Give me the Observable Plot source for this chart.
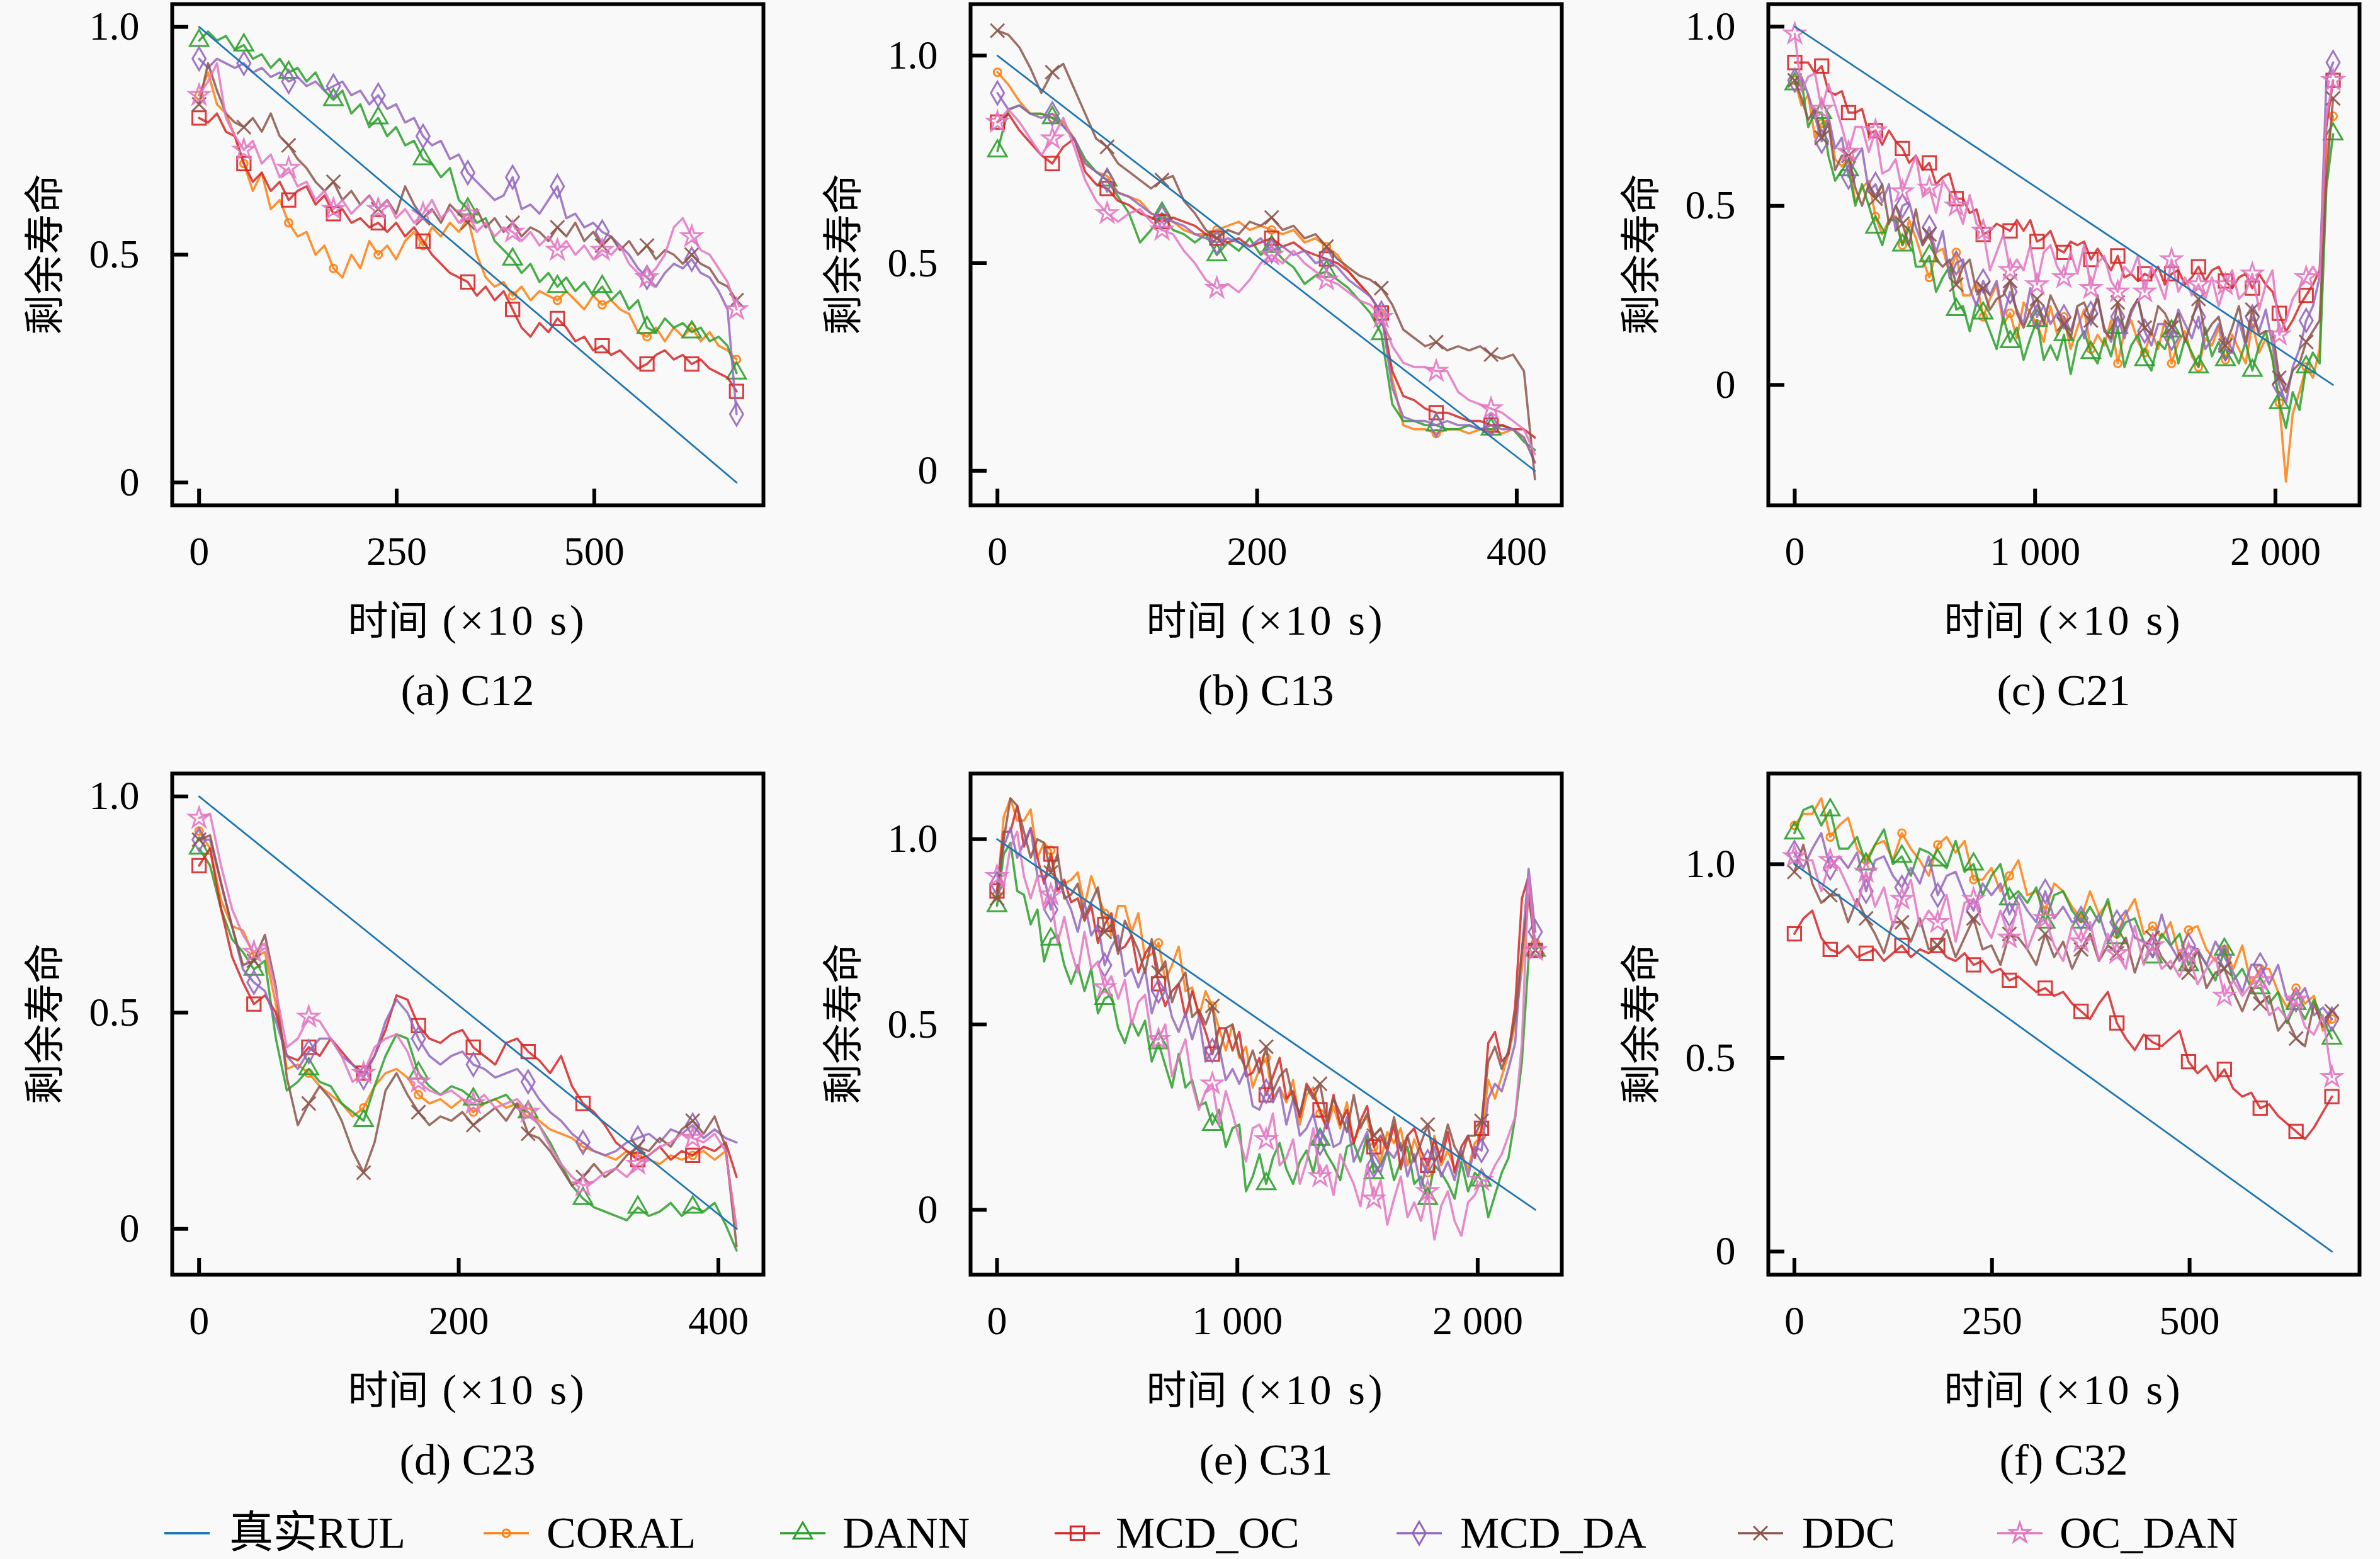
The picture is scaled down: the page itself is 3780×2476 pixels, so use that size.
<!DOCTYPE html>
<html><head><meta charset="utf-8">
<script src="https://cdn.jsdelivr.net/npm/d3@7"></script>
<script src="https://cdn.jsdelivr.net/npm/@observablehq/plot@0.6"></script>
<style>
html,body{margin:0;padding:0;background:#f9f9f9;}
#fig{position:relative;width:3780px;height:2476px;background:#f9f9f9;font-family:"Liberation Serif","Noto Sans CJK SC",serif;color:#000;overflow:hidden;}
.lbl{position:absolute;font-size:64px;white-space:nowrap;transform:translate(-50%,-50%);line-height:1;}
.ttl{position:absolute;font-size:70px;white-space:nowrap;transform:translate(-50%,-50%);line-height:1;}
.lat{letter-spacing:5px;font-size:68px;}
.ylbl{position:absolute;font-size:64px;white-space:nowrap;transform:translate(-50%,-50%) rotate(-90deg);line-height:1;font-family:"Noto Sans CJK SC",sans-serif;}
.leg{position:absolute;font-size:70px;white-space:nowrap;transform:translateY(-50%);line-height:1;}
</style></head><body><div id="fig"></div><script>
// ---------- data ----------
const names = ["真实RUL","CORAL","DANN","MCD_OC","MCD_DA","DDC","OC_DAN"];
const colors = ["#1f77b4","#ff7f0e","#2ca02c","#d62728","#9467bd","#8c564b","#e377c2"];
const symbols = [null,"circle","triangle","square","diamond","times","star"];
const panelTitles = ["(a) C12","(b) C13","(c) C21","(d) C23","(e) C31","(f) C32"];
const durations = [680,414,2240,414,2240,680];
const trueRUL = [1,0];
const yTicks = [0,0.5,1];
const yTickLabels = ["0","0.5","1.0"];
const xTicksA = [0,250,500];
const xTickLabelsA = ["0","250","500"];
const xTicksB = [0,200,400];
const xTickLabelsB = ["0","200","400"];
const xTicksC = [0,1000,2000];
const xTickLabelsC = ["0","1 000","2 000"];
const xAxisTitleCJK = "时间";
const xAxisTitleLat = " (×10 s)";
const yAxisTitle = "剩余寿命";

// C12
const C12_CORAL = [.85,.90,.83,.81,.76,.70,.64,.68,.60,.62,.57,.54,.55,.50,.52,.47,.45,.50,.47,.53,.50,.52,.49,.53,.55,.52,.56,.54,.57,.55,.58,.50,.45,.43,.44,.41,.43,.40,.42,.41,.40,.42,.40,.38,.41,.39,.40,.38,.37,.33,.32,.34,.31,.34,.32,.34,.31,.33,.30,.29,.27];
const C12_DANN = [.97,.99,.97,.98,.95,.96,.93,.94,.91,.93,.90,.91,.88,.90,.86,.84,.86,.81,.83,.78,.80,.76,.78,.74,.75,.71,.70,.67,.69,.62,.60,.57,.58,.53,.51,.49,.46,.48,.44,.46,.43,.45,.42,.44,.41,.43,.40,.42,.38,.40,.34,.33,.36,.34,.35,.33,.34,.31,.32,.30,.24];
const C12_MCD_OC = [.80,.79,.81,.77,.76,.70,.66,.68,.64,.66,.62,.64,.65,.61,.63,.59,.60,.57,.58,.56,.57,.55,.57,.54,.56,.53,.50,.48,.46,.45,.44,.41,.43,.40,.42,.38,.34,.32,.35,.33,.36,.34,.31,.32,.29,.30,.28,.29,.27,.25,.26,.28,.29,.27,.28,.26,.27,.25,.24,.23,.20];
const C12_MCD_DA = [.93,.91,.93,.92,.91,.92,.90,.91,.89,.90,.88,.89,.87,.88,.86,.87,.88,.85,.86,.83,.85,.82,.83,.79,.80,.76,.74,.75,.71,.72,.68,.66,.64,.62,.63,.67,.60,.61,.59,.62,.65,.58,.59,.56,.57,.55,.54,.52,.50,.47,.45,.43,.46,.48,.47,.49,.46,.45,.42,.38,.15];
const C12_DDC = [.83,.92,.86,.81,.79,.78,.80,.77,.81,.76,.74,.71,.69,.66,.64,.66,.62,.64,.61,.63,.60,.62,.59,.65,.61,.58,.60,.57,.61,.59,.57,.60,.56,.58,.55,.57,.54,.56,.55,.53,.56,.54,.57,.53,.55,.52,.54,.51,.53,.50,.52,.49,.51,.50,.48,.50,.48,.47,.44,.43,.40];
const C12_OC_DAN = [.85,.88,.92,.80,.76,.73,.75,.70,.72,.67,.69,.65,.66,.62,.64,.60,.62,.59,.61,.63,.60,.62,.58,.60,.57,.59,.62,.58,.60,.57,.59,.55,.57,.54,.56,.55,.53,.55,.52,.54,.51,.53,.50,.52,.49,.51,.50,.52,.48,.46,.45,.47,.50,.56,.58,.54,.51,.50,.47,.44,.38];

// C13
const C13_CORAL = [.96,.93,.89,.86,.86,.85,.84,.80,.74,.72,.71,.67,.66,.65,.62,.61,.60,.58,.57,.57,.58,.59,.60,.58,.59,.58,.57,.58,.55,.56,.54,.52,.48,.45,.42,.38,.22,.11,.10,.10,.09,.10,.10,.09,.10,.10,.09,.10,.08,.02];
const C13_DANN = [.77,.87,.88,.86,.86,.85,.83,.80,.75,.72,.70,.66,.62,.55,.58,.62,.58,.57,.55,.57,.52,.55,.53,.56,.52,.54,.51,.49,.45,.47,.48,.46,.44,.41,.38,.33,.16,.12,.12,.11,.11,.10,.10,.11,.10,.10,.11,.10,.07,.05];
const C13_MCD_OC = [.84,.86,.82,.79,.76,.74,.78,.80,.72,.69,.68,.65,.64,.62,.61,.60,.61,.60,.59,.57,.56,.55,.56,.54,.55,.56,.54,.55,.53,.52,.51,.50,.48,.45,.42,.38,.24,.18,.17,.15,.14,.14,.13,.12,.12,.11,.11,.10,.10,.08];
const C13_MCD_DA = [.91,.87,.88,.86,.85,.86,.83,.80,.74,.72,.70,.67,.66,.64,.62,.61,.60,.59,.57,.56,.55,.56,.55,.54,.56,.53,.54,.52,.53,.50,.51,.49,.46,.44,.42,.38,.20,.13,.12,.12,.11,.12,.11,.11,.10,.11,.10,.10,.08,.02];
const C13_DDC = [1.06,1.05,1.02,.97,.91,.96,.98,.92,.86,.80,.78,.74,.72,.70,.68,.70,.71,.65,.62,.58,.56,.58,.57,.60,.59,.61,.58,.59,.56,.57,.54,.51,.49,.47,.46,.44,.40,.34,.32,.30,.31,.29,.30,.29,.30,.28,.27,.28,.24,-.02];
const C13_OC_DAN = [.84,.87,.84,.80,.76,.80,.85,.78,.70,.65,.62,.60,.62,.63,.60,.58,.57,.53,.50,.46,.44,.45,.43,.46,.50,.52,.50,.53,.50,.48,.46,.45,.43,.41,.40,.37,.30,.26,.25,.25,.24,.24,.19,.17,.16,.15,.14,.12,.10,.04];

// C21
const C21_CORAL = [.85,.78,.81,.69,.73,.74,.63,.61,.63,.51,.55,.57,.47,.42,.46,.47,.39,.46,.41,.35,.30,.37,.38,.31,.37,.25,.25,.29,.19,.24,.28,.17,.20,.13,.23,.20,.17,.12,.22,.14,.19,.10,.16,.21,.10,.14,.11,.18,.06,.15,.18,.12,.09,.15,.10,.18,.06,.12,.15,.08,.05,.13,.11,.16,.07,.14,.10,.06,.17,.09,.13,.08,-.05,-.27,-.08,-.02,.05,.02,.10,.65,.75];
const C21_DANN = [.84,.85,.72,.76,.76,.64,.57,.60,.60,.50,.56,.50,.44,.39,.46,.46,.39,.44,.33,.33,.36,.26,.30,.33,.21,.22,.15,.23,.20,.15,.10,.19,.12,.16,.07,.13,.18,.07,.11,.07,.14,.03,.12,.15,.09,.06,.13,.08,.16,.05,.11,.14,.07,.04,.12,.10,.15,.06,.13,.09,.05,.16,.08,.12,.07,.10,.06,.12,.04,.11,.15,.07,-.05,-.12,-.02,-.07,.05,.09,.06,.55,.70];
const C21_MCD_OC = [.90,.90,.90,.87,.89,.82,.81,.82,.76,.76,.77,.70,.71,.67,.71,.68,.66,.62,.64,.60,.62,.56,.58,.59,.52,.52,.48,.49,.42,.43,.45,.44,.43,.46,.43,.46,.40,.41,.43,.38,.37,.40,.39,.40,.35,.38,.35,.32,.36,.30,.31,.29,.31,.30,.33,.28,.31,.32,.28,.30,.33,.29,.32,.33,.29,.27,.30,.31,.27,.31,.28,.26,.20,.15,.18,.22,.25,.28,.32,.72,.85];
const C21_MCD_DA = [.85,.86,.81,.75,.68,.75,.66,.69,.58,.63,.66,.54,.56,.51,.56,.43,.50,.51,.44,.39,.44,.37,.43,.30,.34,.35,.27,.22,.29,.25,.29,.19,.26,.21,.17,.27,.19,.22,.17,.20,.19,.15,.21,.13,.20,.24,.16,.12,.19,.13,.20,.24,.15,.11,.17,.17,.13,.21,.17,.13,.19,.10,.13,.17,.10,.09,.18,.11,.19,.15,.21,.11,.00,-.05,.05,.10,.18,.22,.30,.85,.90];
const C21_DDC = [.85,.80,.74,.77,.69,.73,.60,.64,.64,.55,.50,.56,.52,.56,.45,.50,.45,.39,.49,.39,.42,.35,.33,.35,.28,.33,.35,.26,.27,.21,.24,.25,.29,.20,.16,.21,.24,.17,.25,.21,.17,.13,.22,.23,.18,.25,.15,.13,.23,.15,.21,.24,.16,.14,.22,.20,.16,.20,.12,.18,.24,.14,.17,.19,.11,.16,.22,.12,.21,.14,.15,.15,.02,-.02,.04,.06,.12,.15,.18,.58,.80];
const C21_OC_DAN = [.98,.82,.86,.87,.77,.84,.78,.72,.65,.72,.72,.65,.71,.59,.60,.63,.54,.59,.64,.53,.55,.48,.57,.54,.50,.45,.53,.45,.43,.32,.37,.42,.32,.35,.32,.39,.28,.37,.39,.33,.30,.37,.31,.39,.27,.34,.36,.29,.26,.33,.31,.36,.26,.33,.29,.24,.35,.26,.30,.25,.28,.24,.30,.22,.28,.32,.24,.26,.31,.21,.28,.32,.14,.18,.24,.27,.30,.33,.30,.75,.85];

// C23
const C23_CORAL = [.92,.88,.76,.70,.69,.63,.64,.52,.37,.38,.36,.33,.31,.29,.26,.28,.33,.36,.37,.35,.31,.29,.30,.28,.30,.27,.29,.30,.28,.29,.27,.25,.23,.22,.21,.19,.18,.17,.16,.18,.17,.16,.15,.17,.16,.17,.18,.16,.18,.00];
const C23_DANN = [.88,.84,.74,.67,.64,.60,.62,.44,.32,.34,.37,.34,.33,.29,.27,.25,.33,.40,.45,.44,.36,.33,.31,.33,.32,.30,.29,.30,.31,.28,.27,.24,.20,.15,.10,.07,.05,.04,.03,.02,.05,.03,.04,.06,.03,.05,.04,.06,.01,-.05];
const C23_MCD_OC = [.84,.88,.74,.63,.57,.52,.54,.50,.40,.39,.42,.40,.44,.41,.38,.36,.40,.46,.54,.53,.47,.44,.43,.45,.46,.42,.40,.38,.43,.44,.41,.39,.36,.40,.33,.29,.27,.24,.20,.18,.16,.17,.19,.16,.18,.17,.19,.18,.20,.12];
const C23_MCD_DA = [.90,.90,.80,.70,.60,.57,.55,.48,.40,.37,.41,.44,.44,.40,.38,.35,.40,.48,.53,.50,.44,.40,.38,.40,.41,.38,.37,.35,.36,.37,.34,.30,.27,.25,.22,.20,.18,.17,.18,.20,.21,.22,.20,.23,.22,.24,.21,.23,.21,.20];
const C23_DDC = [.90,.91,.80,.70,.61,.62,.68,.56,.35,.24,.29,.33,.30,.25,.18,.13,.20,.32,.36,.31,.27,.24,.26,.25,.27,.24,.26,.28,.25,.29,.22,.21,.18,.14,.10,.12,.15,.12,.14,.17,.19,.18,.21,.19,.23,.25,.22,.26,.19,-.04];
const C23_OC_DAN = [.95,.96,.84,.74,.68,.64,.66,.55,.42,.44,.49,.48,.44,.40,.34,.36,.42,.44,.45,.41,.34,.32,.31,.32,.30,.29,.31,.28,.29,.30,.27,.24,.19,.15,.12,.10,.11,.13,.14,.12,.15,.17,.19,.20,.22,.21,.20,.22,.18,.00];

// C31
const C31_CORAL = [.85,1.06,1.11,1.05,1.05,1.08,.95,.99,.97,.86,.88,.89,.91,.82,.90,.85,.80,.74,.82,.82,.75,.80,.68,.69,.72,.62,.66,.71,.59,.60,.52,.59,.55,.49,.43,.50,.41,.44,.33,.38,.41,.30,.33,.29,.35,.23,.31,.33,.26,.22,.28,.22,.29,.18,.23,.25,.17,.13,.21,.18,.22,.12,.19,.14,.10,.20,.12,.16,.11,.15,.11,.18,.20,.35,.30,.36,.42,.50,.65,.85,.72];
const C31_DANN = [.82,.96,.99,.86,.85,.77,.81,.67,.73,.74,.66,.61,.66,.59,.65,.53,.57,.58,.49,.45,.51,.47,.51,.40,.45,.39,.33,.42,.33,.35,.28,.29,.23,.27,.17,.22,.23,.05,.09,.15,.07,.14,.18,.11,.07,.13,.16,.10,.19,.15,.12,.08,.17,.18,.13,.20,.10,.12,.16,.08,.13,.17,.07,.09,.03,.12,.10,.07,.03,.13,.05,.10,.08,-.02,.04,.10,.14,.25,.40,.68,.70];
const C31_MCD_OC = [.86,1.02,1.02,1.09,.98,1.03,.95,.88,.96,.86,.89,.83,.84,.78,.82,.72,.77,.80,.70,.71,.74,.64,.69,.72,.61,.55,.59,.61,.52,.59,.53,.48,.42,.49,.49,.43,.48,.36,.37,.41,.31,.36,.41,.30,.32,.25,.34,.31,.27,.22,.31,.23,.27,.18,.24,.28,.17,.20,.16,.23,.11,.20,.22,.16,.12,.19,.13,.21,.10,.17,.20,.14,.22,.45,.48,.40,.42,.55,.84,.90,.70];
const C31_MCD_DA = [.88,.98,1.03,.95,.99,1.03,.90,.90,.81,.89,.85,.81,.75,.83,.74,.77,.66,.71,.74,.63,.65,.60,.65,.53,.59,.60,.52,.48,.53,.46,.52,.40,.43,.44,.35,.38,.34,.38,.28,.27,.32,.29,.33,.23,.30,.20,.22,.26,.18,.24,.17,.18,.25,.13,.17,.21,.12,.10,.16,.14,.18,.09,.15,.06,.13,.17,.09,.13,.08,.16,.09,.17,.16,.30,.34,.32,.38,.45,.70,.92,.75];
const C31_DDC = [.84,1.00,1.11,1.09,1.02,.95,1.00,.99,.91,.96,.84,.85,.88,.79,.83,.87,.75,.77,.69,.78,.74,.70,.64,.73,.64,.67,.56,.61,.64,.52,.54,.50,.55,.42,.49,.50,.42,.38,.43,.37,.44,.32,.36,.38,.30,.26,.33,.30,.34,.24,.30,.26,.21,.31,.22,.26,.20,.22,.17,.25,.16,.20,.13,.18,.23,.13,.16,.23,.17,.14,.20,.20,.24,.40,.44,.38,.43,.52,.70,.85,.70];
const C31_OC_DAN = [.90,.87,.98,1.02,.90,.84,.90,.81,.85,.72,.79,.70,.64,.75,.65,.67,.60,.63,.57,.62,.50,.56,.58,.46,.46,.50,.36,.41,.46,.34,.27,.32,.34,.23,.32,.26,.19,.13,.22,.23,.19,.26,.12,.14,.19,.07,.13,.22,.09,.12,.04,.15,.11,.07,.01,.12,.03,.08,-.04,.03,.09,-.02,.02,-.03,.05,-.08,.01,.05,-.03,-.07,.02,.04,.08,.08,.12,.15,.20,.25,.45,.90,.70];

// C32
const C32_CORAL = [1.10,1.13,1.13,1.17,1.07,1.10,1.12,1.04,1.01,1.05,1.06,1.01,1.08,1.04,1.01,.97,1.05,1.07,1.03,1.06,.96,.96,.99,.93,.97,1.01,.92,.93,.88,.95,.93,.89,.86,.93,.87,.90,.82,.87,.91,.82,.84,.81,.85,.76,.83,.84,.78,.75,.78,.73,.79,.69,.73,.73,.67,.63,.68,.64,.66,.57,.60];
const C32_DANN = [1.08,1.14,1.15,1.10,1.14,1.04,1.04,1.07,1.00,1.05,1.09,1.00,1.02,.97,1.04,1.03,1.01,.99,1.06,.98,1.00,.92,.97,1.00,.91,.93,.90,.94,.85,.92,.93,.88,.85,.89,.85,.91,.81,.85,.86,.80,.76,.82,.79,.82,.74,.78,.74,.70,.78,.70,.73,.68,.68,.64,.67,.59,.64,.60,.65,.60,.55];
const C32_MCD_OC = [.82,.86,.88,.81,.78,.77,.79,.76,.77,.78,.75,.77,.79,.76,.78,.77,.79,.76,.75,.77,.74,.75,.72,.73,.70,.71,.69,.67,.68,.66,.67,.64,.62,.60,.64,.67,.59,.55,.52,.56,.54,.53,.55,.57,.49,.46,.48,.44,.47,.42,.40,.41,.37,.38,.35,.33,.31,.29,.32,.36,.40];
const C32_MCD_DA = [1.03,.99,1.04,1.08,.99,1.02,.99,1.03,.93,1.01,1.02,.97,.94,.99,.95,1.02,.92,.97,.98,.92,.88,.95,.92,.95,.87,.92,.88,.85,.93,.86,.89,.85,.86,.83,.87,.80,.85,.88,.81,.80,.79,.87,.79,.75,.79,.78,.74,.80,.76,.72,.67,.74,.74,.69,.74,.65,.65,.68,.61,.63,.60];
const C32_DDC = [.98,1.05,.95,.90,.92,.92,.85,.91,.86,.82,.77,.85,.85,.80,.86,.78,.79,.83,.76,.81,.86,.78,.79,.74,.82,.81,.78,.74,.82,.76,.80,.73,.78,.82,.75,.79,.77,.81,.72,.79,.81,.76,.73,.77,.72,.78,.68,.72,.73,.67,.62,.68,.64,.66,.57,.60,.55,.53,.64,.58,.62];
const C32_OC_DAN = [1.02,1.01,1.01,.93,1.01,.99,.94,.89,.98,.89,.94,.84,.91,.96,.84,.88,.85,.92,.80,.90,.91,.85,.81,.88,.81,.90,.78,.84,.86,.79,.75,.84,.80,.85,.75,.82,.77,.73,.84,.74,.79,.73,.75,.71,.77,.69,.73,.76,.66,.70,.66,.69,.70,.61,.63,.60,.65,.58,.56,.61,.45];

// ---------- layout ----------
const fig = document.getElementById("fig");
const SVG_W = 1260, SVG_H = 1000;
const frameLefts = [273, 1541, 2808];
const frameTops = [6, 1228];
const svgTops = [0, 1222];
const frameW = 939, frameH = 796;
const radii = [0, 6, 11, 12, 11, 10, 10];

const panels = [
  {T: durations[0], xDomain: [-34, 714], yDomain: [-0.05, 1.05], xt: xTicksA, xl: xTickLabelsA, k: 5,
   series: [C12_CORAL, C12_DANN, C12_MCD_OC, C12_MCD_DA, C12_DDC, C12_OC_DAN]},
  {T: durations[1], xDomain: [-20.7, 434.7], yDomain: [-0.083, 1.124], xt: xTicksB, xl: xTickLabelsB, k: 5,
   series: [C13_CORAL, C13_DANN, C13_MCD_OC, C13_MCD_DA, C13_DDC, C13_OC_DAN]},
  {T: durations[2], xDomain: [-110, 2350], yDomain: [-0.336, 1.063], xt: xTicksC, xl: xTickLabelsC, k: 4,
   series: [C21_CORAL, C21_DANN, C21_MCD_OC, C21_MCD_DA, C21_DDC, C21_OC_DAN]},
  {T: durations[3], xDomain: [-20.7, 434.7], yDomain: [-0.106, 1.053], xt: xTicksB, xl: xTickLabelsB, k: 5,
   series: [C23_CORAL, C23_DANN, C23_MCD_OC, C23_MCD_DA, C23_DDC, C23_OC_DAN]},
  {T: durations[4], xDomain: [-110, 2350], yDomain: [-0.175, 1.177], xt: xTicksC, xl: xTickLabelsC, k: 8,
   series: [C31_CORAL, C31_DANN, C31_MCD_OC, C31_MCD_DA, C31_DDC, C31_OC_DAN]},
  {T: durations[5], xDomain: [-33, 715], yDomain: [-0.06, 1.234], xt: xTicksA, xl: xTickLabelsA, k: 4,
   series: [C32_CORAL, C32_DANN, C32_MCD_OC, C32_MCD_DA, C32_DDC, C32_OC_DAN]}
];

const yLabelMap = new Map(yTicks.map((t, i) => [t, yTickLabels[i]]));

function addLabel(cls, x, y, text) {
  const d = document.createElement("div");
  d.className = cls;
  if (text !== undefined) d.textContent = text;
  d.style.left = x + "px"; d.style.top = y + "px";
  fig.appendChild(d);
  return d;
}

panels.forEach((p, idx) => {
  const col = idx % 3, row = Math.floor(idx / 3);
  const ox = col * SVG_W, oy = svgTops[row];
  const mL = frameLefts[col] - ox;
  const mT = frameTops[row] - oy;
  const mR = SVG_W - mL - frameW;
  const mB = SVG_H - mT - frameH;
  const xLabelMap = new Map(p.xt.map((t, i) => [t, p.xl[i]]));
  const marks = [];
  p.series.forEach((vals, j) => {
    const n = vals.length;
    const data = vals.map((v, i) => ({t: i * p.T / (n - 1), v, i}));
    marks.push(Plot.line(data, {x: "t", y: "v", stroke: colors[j + 1], strokeWidth: 3.6, strokeOpacity: 0.85}));
    marks.push(Plot.dot(data.filter(d => d.i % p.k === 0), {
      x: "t", y: "v", symbol: symbols[j + 1], r: radii[j + 1],
      stroke: colors[j + 1], fill: "none", strokeWidth: 3, strokeOpacity: 0.9
    }));
  });
  marks.push(Plot.line(trueRUL.map((v, i) => ({t: i * p.T, v})), {x: "t", y: "v", stroke: colors[0], strokeWidth: 2.8}));
  marks.push(Plot.frame({stroke: "black", strokeWidth: 6}));
  marks.push(Plot.tickX(p.xt, {x: d => d, stroke: "black", strokeWidth: 6, insetTop: frameH - 26}));
  marks.push(Plot.tickY(yTicks, {y: d => d, stroke: "black", strokeWidth: 6, insetRight: frameW - 26}));
  marks.push(Plot.axisX(p.xt, {tickSize: 0, tickPadding: 49, fontSize: 64, tickFormat: d => xLabelMap.get(d), label: null, fill: "black"}));
  marks.push(Plot.axisY(yTicks, {tickSize: 0, tickPadding: 52, fontSize: 64, tickFormat: d => yLabelMap.get(d), label: null, fill: "black"}));
  const svg = Plot.plot({
    width: SVG_W, height: SVG_H,
    marginLeft: mL, marginRight: mR, marginTop: mT, marginBottom: mB,
    x: {domain: p.xDomain, label: null},
    y: {domain: p.yDomain, label: null},
    style: {background: "transparent", fontFamily: '"Liberation Serif","Noto Sans CJK SC",serif', color: "black", overflow: "visible"},
    marks
  });
  svg.style.position = "absolute";
  svg.style.left = ox + "px";
  svg.style.top = oy + "px";
  fig.appendChild(svg);

  const fl = frameLefts[col], ft = frameTops[row], fb = ft + frameH;
  const xl = addLabel("lbl", fl + frameW / 2, fb + 183);
  const s1 = document.createElement("span"); s1.textContent = xAxisTitleCJK; xl.appendChild(s1);
  const s2 = document.createElement("span"); s2.className = "lat"; s2.textContent = xAxisTitleLat; xl.appendChild(s2);
  addLabel("ttl", fl + frameW / 2, fb + 295, panelTitles[idx]);
  addLabel("ylbl", fl - 208, ft + frameH / 2, yAxisTitle);
});

// ---------- legend ----------
const legendPos = [[261, 364], [768, 868], [1239, 1338], [1675, 1772], [2218, 2319], [2760, 2862], [3172, 3271]];
const legendY = 2435;
const symMap = {circle: d3.symbolCircle, triangle: d3.symbolTriangle, square: d3.symbolSquare, diamond: d3.symbolDiamond, times: d3.symbolTimes || d3.symbolX, star: d3.symbolStar};
names.forEach((name, j) => {
  const [lx, tx] = legendPos[j];
  const s = d3.create("svg").attr("width", 80).attr("height", 50)
    .style("position", "absolute").style("left", lx + "px").style("top", (legendY - 25) + "px").style("overflow", "visible");
  s.append("line").attr("x1", 0).attr("x2", 72).attr("y1", 25).attr("y2", 25)
    .attr("stroke", colors[j]).attr("stroke-width", j === 0 ? 4 : 3.5);
  if (symbols[j]) {
    s.append("path").attr("transform", "translate(36,25)")
      .attr("d", d3.symbol(symMap[symbols[j]], Math.PI * radii[j] * radii[j])())
      .attr("fill", "none").attr("stroke", colors[j]).attr("stroke-width", 3);
  }
  fig.appendChild(s.node());
  const t = document.createElement("div");
  t.className = "leg"; t.textContent = name;
  t.style.left = tx + "px"; t.style.top = legendY + "px";
  fig.appendChild(t);
});
</script></body></html>
